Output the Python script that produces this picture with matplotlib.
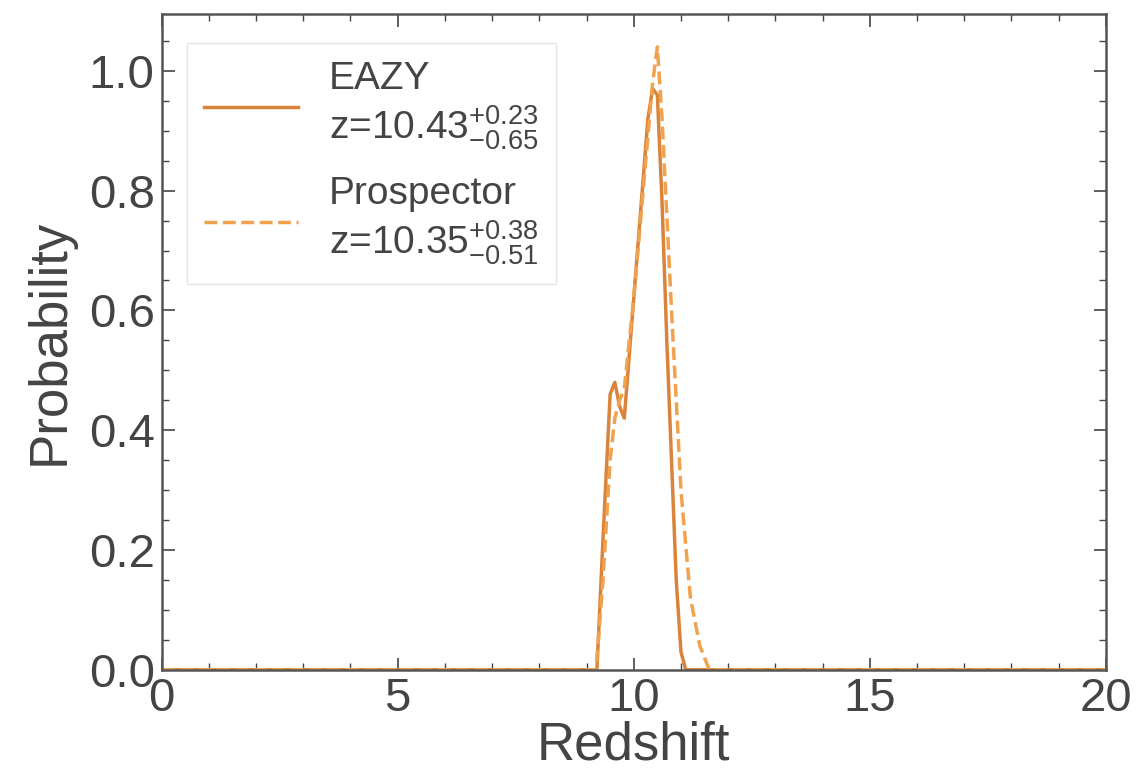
import numpy as np
import matplotlib
matplotlib.use('Agg')
import matplotlib.pyplot as plt
from matplotlib.ticker import MultipleLocator

# EAZY p(z)
z_eazy = [0.0, 9.0, 9.22, 9.35, 9.5, 9.6, 9.7, 9.8, 9.9, 10.0, 10.1, 10.2, 10.3, 10.4,
          10.5, 10.6, 10.7, 10.8, 10.9, 11.0, 11.1, 20.0]
p_eazy = [0.0, 0.0, 0.0, 0.22, 0.46, 0.48, 0.44, 0.42, 0.52, 0.62, 0.72, 0.82, 0.92, 0.97,
          0.96, 0.78, 0.55, 0.35, 0.15, 0.03, 0.0, 0.0]

# Prospector p(z)
z_prosp = [0.0, 9.2, 9.35, 9.5, 9.6, 9.7, 9.8, 10.0, 10.2, 10.4, 10.5, 10.6, 10.8, 11.0,
           11.2, 11.4, 11.6, 20.0]
p_prosp = [0.0, 0.0, 0.15, 0.35, 0.42, 0.45, 0.47, 0.62, 0.80, 0.98, 1.04, 0.92, 0.60, 0.30,
           0.12, 0.04, 0.0, 0.0]

lab_eazy = 'EAZY\n' + r'z=10.43$^{+0.23}_{-0.65}$'
lab_prosp = 'Prospector\n' + r'z=10.35$^{+0.38}_{-0.51}$'

plt.rcParams['font.family'] = ['Liberation Sans', 'DejaVu Sans']
plt.rcParams['mathtext.fontset'] = 'custom'
plt.rcParams['mathtext.rm'] = 'Liberation Sans'
plt.rcParams['mathtext.it'] = 'Liberation Sans'
plt.rcParams['text.color'] = '#444444'
plt.rcParams['axes.labelcolor'] = '#444444'
plt.rcParams['xtick.color'] = '#444444'
plt.rcParams['ytick.color'] = '#444444'

fig = plt.figure(figsize=(11.46, 7.77), dpi=100)
ax = fig.add_axes([0.141, 0.138, 0.824, 0.844])

ax.plot(z_eazy, p_eazy, color='#d9843a', lw=2.5, ls='-', label=lab_eazy)
ax.plot(z_prosp, p_prosp, color='#f0a24e', lw=2.5, ls='--', label=lab_prosp)

ax.set_xlim(0, 20)
ax.set_ylim(0, 1.095)
ax.xaxis.set_major_locator(MultipleLocator(5))
ax.xaxis.set_minor_locator(MultipleLocator(1))
ax.yaxis.set_major_locator(MultipleLocator(0.2))
ax.yaxis.set_minor_locator(MultipleLocator(0.05))
ax.yaxis.set_major_formatter(plt.FormatStrFormatter('%.1f'))
ax.tick_params(which='both', direction='in', top=True, right=True, labelsize=34)
ax.tick_params(which='major', length=9, width=1.2, pad=5)
ax.tick_params(which='minor', length=5, width=1.0)
for s in ax.spines.values():
    s.set_color('#555555')
    s.set_linewidth(1.8)

ax.set_xlabel('Redshift', fontsize=38, labelpad=0)
ax.set_ylabel('Probability', fontsize=38, labelpad=10)

leg = ax.legend(loc='upper left', fontsize=28, handlelength=2.4, labelspacing=0.6,
                borderpad=0.45, handletextpad=0.8, frameon=True, fancybox=False,
                bbox_to_anchor=(0.006, 0.985))
leg.get_frame().set_edgecolor('#dddddd')

fig.savefig('out.png', dpi=100)
